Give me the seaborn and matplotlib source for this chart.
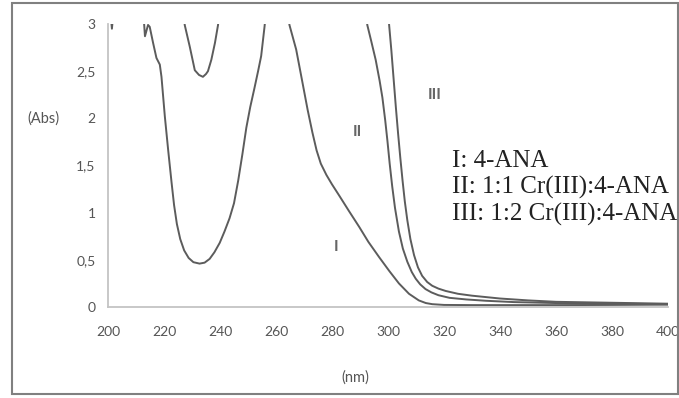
import pandas as pd
import matplotlib
matplotlib.use("Agg")
import matplotlib.pyplot as plt
import seaborn as sns
from matplotlib.patches import Rectangle
from matplotlib.ticker import FuncFormatter, MultipleLocator

# UV-Vis absorbance spectra (off-scale readings above 3 are clipped by the axis)
series_names = ["I", "II", "III"]
legend_labels = ["I: 4-ANA", "II: 1:1 Cr(III):4-ANA", "III: 1:2 Cr(III):4-ANA"]

wl_I = [200, 212.0, 213.2, 214.3, 214.9, 216.1, 217.3, 218.5, 219.1, 220.3,
        221.5, 222.7, 223.6, 224.6, 225.8, 227.2, 228.8, 230.5, 232.7, 234.5,
        236.3, 238.0, 239.9, 241.6, 243.4, 245.0, 246.5, 248.0, 249.4, 250.8,
        252.3, 253.6, 254.7, 255.9, 257.0,
        263.5, 264.8, 267.2, 269.0, 271.3, 273.0, 274.5, 276.0, 278.0, 280.0,
        282.6, 286.0, 289.7, 293.0, 296.8, 300.5, 303.9, 307.5, 311.0, 313.5,
        315.8, 320, 330, 345, 360, 380, 400]
abs_I = [3.4, 3.4, 2.87, 2.99, 2.97, 2.80, 2.64, 2.57, 2.44, 2.02,
         1.66, 1.32, 1.08, 0.88, 0.72, 0.60, 0.52, 0.475, 0.46, 0.47,
         0.51, 0.58, 0.68, 0.80, 0.94, 1.10, 1.34, 1.62, 1.90, 2.12,
         2.32, 2.50, 2.66, 2.97, 3.3,
         3.3, 2.99, 2.73, 2.45, 2.09, 1.85, 1.66, 1.52, 1.40, 1.30,
         1.18, 1.02, 0.85, 0.69, 0.53, 0.38, 0.25, 0.14, 0.07, 0.042,
         0.03, 0.022, 0.02, 0.02, 0.02, 0.022, 0.025]

wl_II = [200, 226.5, 227.4, 229.2, 231.0, 232.5, 233.9, 235.0, 235.7, 236.9,
         238.2, 239.3, 240.2,
         291.8, 292.6, 294.0, 295.6, 297.0, 298.0, 299.0, 299.8, 300.6, 301.5,
         302.5, 303.9, 305.3, 306.9, 308.5, 309.9, 311.5, 313.4, 315.5, 318.0,
         322, 328, 335, 345, 360, 380, 400]
abs_II = [3.5, 3.3, 2.99, 2.76, 2.51, 2.46, 2.44, 2.47, 2.50, 2.62,
          2.80, 2.99, 3.3,
          3.3, 2.99, 2.82, 2.62, 2.40, 2.22, 1.98, 1.76, 1.52, 1.28,
          1.05, 0.80, 0.62, 0.48, 0.37, 0.30, 0.24, 0.19, 0.155, 0.125,
          0.097, 0.08, 0.066, 0.052, 0.042, 0.035, 0.03]

wl_III = [200, 201.4, 202.8,
          299.5, 300.4, 301.2, 302.0, 302.8, 303.6, 304.4, 305.2, 306.0, 306.9,
          308.0, 309.3, 310.7, 312.2, 314.0, 315.8, 318.0, 320.6, 325, 330,
          340, 350, 360, 380, 400]
abs_III = [3.4, 2.95, 3.4,
           3.4, 2.99, 2.72, 2.42, 2.12, 1.84, 1.58, 1.34, 1.12, 0.92,
           0.72, 0.55, 0.42, 0.33, 0.265, 0.225, 0.195, 0.17, 0.14, 0.12,
           0.09, 0.07, 0.055, 0.045, 0.035]

# where the roman numeral tags sit (nm, Abs)
tag_nm = [281.5, 289.0, 316.8]
tag_abs = [0.64, 1.86, 2.25]

x_ticks = list(range(200, 401, 20))

frames = []
for name, wl, ab in zip(series_names, [wl_I, wl_II, wl_III], [abs_I, abs_II, abs_III]):
    frames.append(pd.DataFrame({"nm": wl, "Abs": ab, "series": name}))
df = pd.concat(frames, ignore_index=True)

sns.set_theme(style="white")
plt.rcParams["font.family"] = ["Lato", "DejaVu Sans"]

W, H = 679, 398
fig = plt.figure(figsize=(W / 100, H / 100), dpi=100)
fig.patch.set_facecolor("white")
ax = fig.add_axes([108 / W, 1 - 307 / H, 560 / W, 283 / H])

line_color = "#5c5c5c"
sns.lineplot(data=df, x="nm", y="Abs", hue="series", estimator=None, sort=False,
             palette={n: line_color for n in series_names}, linewidth=1.4,
             legend=False, ax=ax)

ax.set_xlim(200, 400)
ax.set_ylim(0, 3)
ax.set_xticks(x_ticks)
ax.yaxis.set_major_locator(MultipleLocator(0.5))
ax.yaxis.set_major_formatter(FuncFormatter(lambda v, _: f"{v:g}".replace(".", ",")))
ax.set_xlabel("")
ax.set_ylabel("")
for side in ["top", "right"]:
    ax.spines[side].set_visible(False)
for side in ["left", "bottom"]:
    ax.spines[side].set_color("#c4c4c4")
    ax.spines[side].set_linewidth(1.3)
ax.tick_params(axis="both", length=0, labelsize=10, labelcolor="#555555")
ax.tick_params(axis="x", pad=13.5)
ax.tick_params(axis="y", pad=9)

for name, xn, ya in zip(series_names, tag_nm, tag_abs):
    ax.text(xn, ya, name, ha="center", va="center", fontsize=11.5,
            fontweight="bold", color="#666666")

fig.text(43 / W, 1 - 119 / H, "(Abs)", ha="center", va="center", fontsize=10.5, color="#555555")
fig.text(355 / W, 1 - 378 / H, "(nm)", ha="center", va="center", fontsize=10.5, color="#555555")

for i, lab in enumerate(legend_labels):
    fig.text(452 / W, 1 - (167 + 27 * i) / H, lab, ha="left", va="baseline",
             fontsize=18, color="#222222", family=["Liberation Serif"])

fig.add_artist(Rectangle((12 / W, 1 - 394 / H), 666 / W, 391 / H,
                         transform=fig.transFigure, fill=False,
                         edgecolor="#808080", linewidth=1.5))

fig.savefig("out.png", dpi=100)
